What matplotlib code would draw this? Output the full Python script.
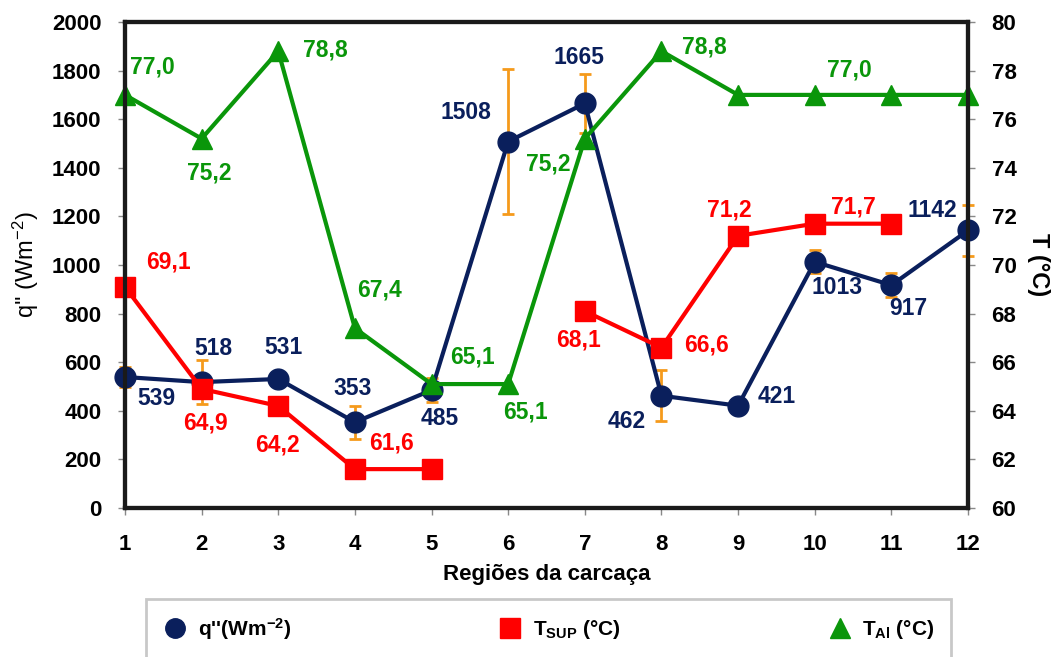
import numpy as np
import matplotlib.pyplot as plt
from matplotlib.lines import Line2D

plt.rcParams['font.family'] = ['Liberation Sans', 'DejaVu Sans']
plt.rcParams['font.weight'] = 'bold'
plt.rcParams['mathtext.default'] = 'regular'

# dados
regioes = np.arange(1, 13)
q = [539, 518, 531, 353, 485, 1508, 1665, 462, 421, 1013, 917, 1142]
q_err = [40, 90, 0, 68, 50, 300, 123, 105, 0, 47, 50, 103]
t_sup = [69.1, 64.9, 64.2, 61.6, 61.6, np.nan, 68.1, 66.6, 71.2, 71.7, 71.7, np.nan]
t_al = [77.0, 75.2, 78.8, 67.4, 65.1, 65.1, 75.2, 78.8, 77.0, 77.0, 77.0, 77.0]

# rotulos: indice -> deslocamento (pixels)
lab_q = {0: (31, -21), 1: (12, 34), 2: (5, 31), 3: (-2, 34), 4: (8, -28),
         5: (-42, 29), 6: (-6, 46), 7: (-35, -26), 8: (39, 9), 9: (22, -26),
         10: (17, -23), 11: (-36, 20)}
lab_sup = {0: (43, 25), 1: (4, -34), 2: (-1, -39), 3: (37, 26), 6: (-6, -29),
           7: (45, 3), 8: (-9, 26), 9: (39, 17)}
lab_al = {0: (27, 28), 1: (8, -34), 2: (47, 1), 3: (25, 38), 4: (41, 27),
          5: (17, -28), 6: (-37, -25), 7: (43, 4), 9: (35, 25)}

azul = '#0a1f5c'
vermelho = '#ff0000'
verde = '#0a960a'
laranja = '#f59a1c'

fig = plt.figure(figsize=(10.55, 6.57), dpi=100)
ax = fig.add_axes([125/1055, 1 - 508/657, (968-125)/1055, (508-22)/657])
ax2 = ax.twinx()

eb = ax.errorbar(regioes, q, yerr=q_err, color=azul, ecolor=laranja, elinewidth=2,
                 capsize=4, capthick=2, lw=3, marker='o', ms=15, zorder=3)
for art in eb.get_children():
    art.set_clip_on(False)
ax2.plot(regioes, t_sup, color=vermelho, lw=3, marker='s', ms=15, clip_on=False)
ax2.plot(regioes, t_al, color=verde, lw=3, marker='^', ms=15, clip_on=False)

fs = 16.5
for i, (dx, dy) in lab_q.items():
    ax.annotate(str(q[i]), (regioes[i], q[i]), xytext=(dx, dy), textcoords='offset pixels',
                ha='center', va='center', color=azul, fontsize=fs, fontweight='bold')
for i, (dx, dy) in lab_sup.items():
    ax2.annotate(f"{t_sup[i]:.1f}".replace('.', ','), (regioes[i], t_sup[i]), xytext=(dx, dy),
                 textcoords='offset pixels', ha='center', va='center', color=vermelho,
                 fontsize=fs, fontweight='bold')
for i, (dx, dy) in lab_al.items():
    ax2.annotate(f"{t_al[i]:.1f}".replace('.', ','), (regioes[i], t_al[i]), xytext=(dx, dy),
                 textcoords='offset pixels', ha='center', va='center', color=verde,
                 fontsize=fs, fontweight='bold')

ax.set_xlim(1, 12)
ax.set_ylim(0, 2000)
ax2.set_ylim(60, 80)
ax.set_xticks(regioes)
ax.set_yticks(range(0, 2001, 200))
ax2.set_yticks(range(60, 81, 2))

for a in (ax, ax2):
    for s in a.spines.values():
        s.set_linewidth(3)
        s.set_color('#1a1a1a')
    a.tick_params(labelsize=16, length=5, width=1, color='#888888')
ax.tick_params(axis='y', pad=12)
ax.tick_params(axis='x', pad=14)
ax2.tick_params(axis='y', pad=12)

ax.set_ylabel("q'' (Wm$^{-2}$)", fontsize=17, fontweight='normal', labelpad=8)
ax2.set_ylabel("T (°C)", fontsize=17, fontweight='bold', rotation=-90, labelpad=24)
ax.set_xlabel("Regiões da carcaça", fontsize=16, fontweight='bold', labelpad=6)

handles = [Line2D([], [], color=azul, marker='o', ls='none', ms=14),
           Line2D([], [], color=vermelho, marker='s', ls='none', ms=14),
           Line2D([], [], color=verde, marker='^', ls='none', ms=14)]
nomes = ["q''(Wm$^{-2}$)", "T$_{SUP}$ (°C)", "T$_{Al}$ (°C)"]
leg = fig.legend(handles, nomes, loc='upper left', bbox_to_anchor=(146/1055, 1 - 599/657),
                 ncol=3, fontsize=15, frameon=True, fancybox=False, edgecolor='#bbbbbb',
                 columnspacing=9.9, handletextpad=0.5, borderpad=0.8, handlelength=1.2,
                 borderaxespad=0)
leg.get_frame().set_linewidth(2)

fig.savefig('out.png', dpi=100)
